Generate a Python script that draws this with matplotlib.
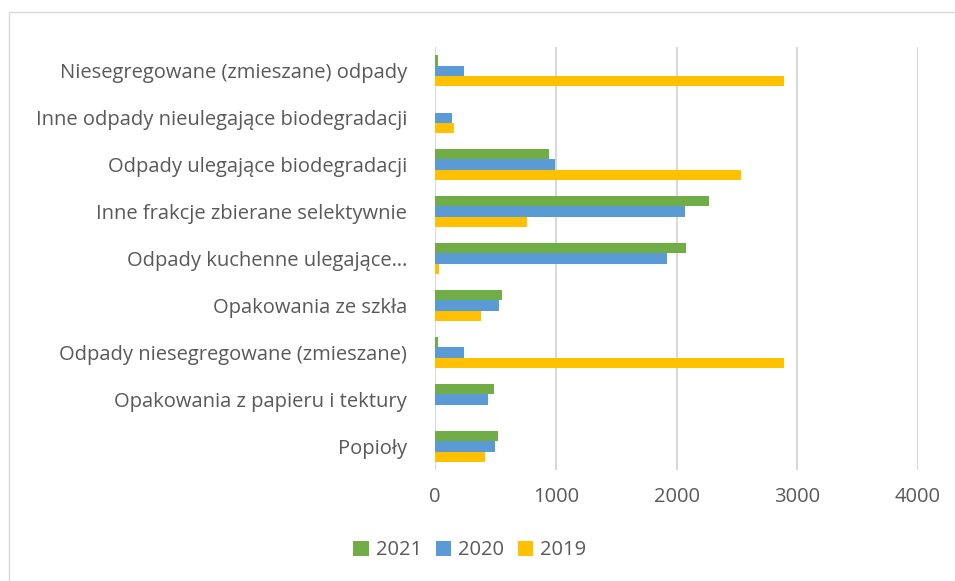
import numpy as np
import matplotlib.pyplot as plt
from matplotlib.patches import Rectangle

categories = [
    "Popioły",
    "Opakowania z papieru i tektury",
    "Odpady niesegregowane (zmieszane)",
    "Opakowania ze szkła",
    "Odpady kuchenne ulegające…",
    "Inne frakcje zbierane selektywnie",
    "Odpady ulegające biodegradacji",
    "Inne odpady nieulegające biodegradacji",
    "Niesegregowane (zmieszane) odpady",
]
v2021 = [522, 489, 22, 558, 2081, 2269, 947, 0, 22]
v2020 = [497, 442, 242, 531, 1925, 2067, 992, 139, 242]
v2019 = [414, 0, 2889, 383, 36, 758, 2533, 158, 2889]

years = ["2021", "2020", "2019"]
colors = ["#70AD47", "#5B9BD5", "#FFC000"]

plt.rcParams["font.family"] = ["Open Sans", "DejaVu Sans"]
text_color = "#595959"

fig = plt.figure(figsize=(9.55, 5.81), dpi=100)
ax = fig.add_axes([0.4555, 0.191, 0.5058, 0.728])

y = np.arange(len(categories))
h = 0.215
ax.barh(y + h, v2021, height=h, color=colors[0], label=years[0])
ax.barh(y, v2020, height=h, color=colors[1], label=years[1])
ax.barh(y - h, v2019, height=h, color=colors[2], label=years[2])

ax.set_xlim(0, 4000)
ax.set_ylim(-0.5, len(categories) - 0.5)
ax.set_xticks([0, 1000, 2000, 3000, 4000])
ax.set_yticks(y)
ax.set_yticklabels(categories)
ax.tick_params(axis="both", length=0, labelsize=14.5, colors=text_color)
ax.tick_params(axis="y", pad=20)
ax.tick_params(axis="x", pad=12)
ax.grid(axis="x", color="#D9D9D9", linewidth=1.5)
ax.set_axisbelow(True)
for s in ax.spines.values():
    s.set_visible(False)

leg = fig.legend(loc="center", bbox_to_anchor=(0.492, 0.053), ncol=3, frameon=False,
                 fontsize=14.5, handlelength=0.75, handleheight=0.75, handletextpad=0.35,
                 columnspacing=0.7)
for t in leg.get_texts():
    t.set_color(text_color)

fig.patches.append(Rectangle((9 / 955, -0.1), 1.2, 1 - 12 / 581 + 0.1,
                             transform=fig.transFigure, fill=False,
                             edgecolor="#D9D9D9", linewidth=1))

fig.savefig("out.png", dpi=100)
